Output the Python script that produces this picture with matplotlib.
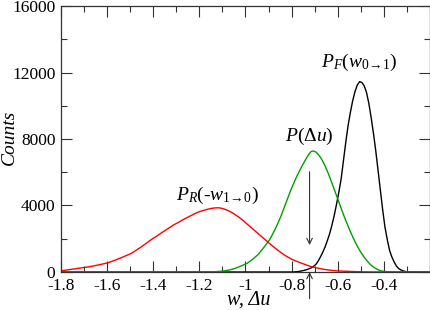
import numpy as np
import matplotlib
matplotlib.use("Agg")
import matplotlib.pyplot as plt
import matplotlib.ticker as mticker

# Histogram counts, 0.01-wide bins
BIN_W = 0.01
X_MIN, X_MAX = -1.8, -0.2

red_start = -1.80
red_counts = [
    80, 100, 120, 140, 160, 180, 200, 220, 240, 260,
    280, 300, 320, 350, 375, 400, 430, 460, 495, 530,
    560, 610, 660, 710, 765, 820, 880, 940, 1000, 1060,
    1120, 1210, 1300, 1390, 1480, 1580, 1680, 1780, 1880, 1980,
    2070, 2160, 2250, 2350, 2440, 2530, 2620, 2710, 2800, 2880,
    2950, 3030, 3110, 3190, 3260, 3330, 3400, 3470, 3540, 3600,
    3650, 3690, 3730, 3770, 3800, 3830, 3850, 3860, 3860, 3840,
    3800, 3750, 3690, 3620, 3540, 3450, 3360, 3260, 3150, 3040,
    2910, 2790, 2670, 2550, 2430, 2310, 2190, 2070, 1950, 1830,
    1710, 1590, 1480, 1370, 1260, 1160, 1060, 970, 890, 810,
    740, 680, 630, 570, 520, 470, 420, 370, 320, 290,
    260, 230, 200, 170, 150, 130, 110, 95, 80, 70,
    60, 54, 48, 42, 36, 30, 26, 22, 18, 14,
    10, 8, 6, 5, 4, 3, 2, 1, 1, 0]

green_start = -1.20
green_counts = [
    0, 0, 2, 4, 7, 10, 16, 25, 35, 46,
    60, 80, 105, 135, 175, 220, 270, 330, 390, 445,
    500, 600, 700, 810, 930, 1050, 1220, 1390, 1570, 1760,
    1950, 2200, 2470, 2760, 3070, 3400, 3760, 4130, 4500, 4870,
    5200, 5520, 5820, 6100, 6370, 6620, 6860, 7080, 7250, 7280,
    7220, 7090, 6900, 6670, 6390, 6070, 5720, 5350, 4970, 4590,
    4210, 3830, 3460, 3100, 2760, 2430, 2120, 1830, 1560, 1310,
    1090, 890, 710, 550, 410, 300, 210, 140, 85, 50,
    25, 10, 0]

black_start = -0.80
black_counts = [
    0, 10, 20, 40, 70, 100, 140, 190, 250, 340,
    450, 650, 900, 1180, 1500, 1880, 2300, 2820, 3400, 4080,
    4800, 5600, 6700, 7800, 8800, 9600, 10300, 10850, 11250, 11450,
    11400, 11200, 10800, 10150, 9300, 8350, 7300, 6100, 4900, 3750,
    2700, 1950, 1300, 900, 600, 350, 200, 120, 60, 25, 0]

x_ticks = [-1.8, -1.6, -1.4, -1.2, -1.0, -0.8, -0.6, -0.4]
x_labels = ["-1.8", "-1.6", "-1.4", "-1.2", "-1", "-0.8", "-0.6", "-0.4"]
y_ticks = [0, 4000, 8000, 12000, 16000]

plt.rcParams.update({
    "font.family": "Liberation Serif",
    "mathtext.fontset": "custom",
    "mathtext.rm": "Liberation Serif",
    "mathtext.it": "Liberation Serif:italic",
    "axes.unicode_minus": False,
})

n_bins = int(round((X_MAX - X_MIN) / BIN_W))
centers = np.round(X_MIN + BIN_W * (np.arange(n_bins) + 0.5), 3)


def full_series(start, counts):
    # pad with zeros so every histogram covers the whole axis
    out = np.zeros(n_bins)
    i0 = int(round((start - X_MIN) / BIN_W))
    out[i0:i0 + len(counts)] = counts
    return out


fig = plt.figure(figsize=(4.31, 3.10), dpi=100)
ax = fig.add_axes([0.1415, 0.1226, 0.856, 0.858])

ax.plot(centers, full_series(black_start, black_counts), color="black", lw=1.0)
ax.plot(centers, full_series(green_start, green_counts), color="#00a000", lw=1.0)
ax.plot(centers, full_series(red_start, red_counts), color="#ff0000", lw=1.0)

ax.set_xlim(X_MIN, X_MAX)
ax.set_ylim(0, 16000)
ax.set_xticks(x_ticks)
ax.set_xticklabels(x_labels)
ax.set_yticks(y_ticks)
ax.xaxis.set_minor_locator(mticker.MultipleLocator(0.1))
ax.yaxis.set_minor_locator(mticker.MultipleLocator(2000))
ax.tick_params(which="both", direction="in", top=True, right=True,
               labelsize=12.5, width=0.8, color="#333333")
ax.tick_params(which="major", length=8, pad=4)
ax.tick_params(which="minor", length=4)
for s in ax.spines.values():
    s.set_linewidth(0.9)
    s.set_color("#333333")

# axis titles placed in figure pixels like the reference
fig.text(9 / 431, 1 - 137 / 310, "Counts", fontsize=14, style="italic",
         rotation=90, ha="center", va="center")
fig.text(249 / 431, 1 - 300 / 310, "w, \u0394u", fontsize=14.5, style="italic",
         ha="center", va="center")

ax.text(-1.302, 4330, r"$P_R($-$w_{1\!\rightarrow\!0})$", fontsize=14,
        ha="left", va="baseline")
ax.text(-0.830, 7880, r"$P(\Delta u)$", fontsize=14, ha="left", va="baseline")
ax.text(-0.671, 12350, r"$P_F(w_{0\!\rightarrow\!1})$", fontsize=14,
        ha="left", va="baseline")

ax.annotate("", xy=(-0.722, 1620), xytext=(-0.722, 6030),
            arrowprops=dict(arrowstyle="->", lw=0.8, color="#333333",
                            shrinkA=0, shrinkB=0))
ax.annotate("", xy=(-0.722, 0), xytext=(-0.722, -1600),
            arrowprops=dict(arrowstyle="->", lw=0.8, color="#333333",
                            shrinkA=0, shrinkB=0),
            annotation_clip=False)

fig.savefig("out.png", dpi=100)
